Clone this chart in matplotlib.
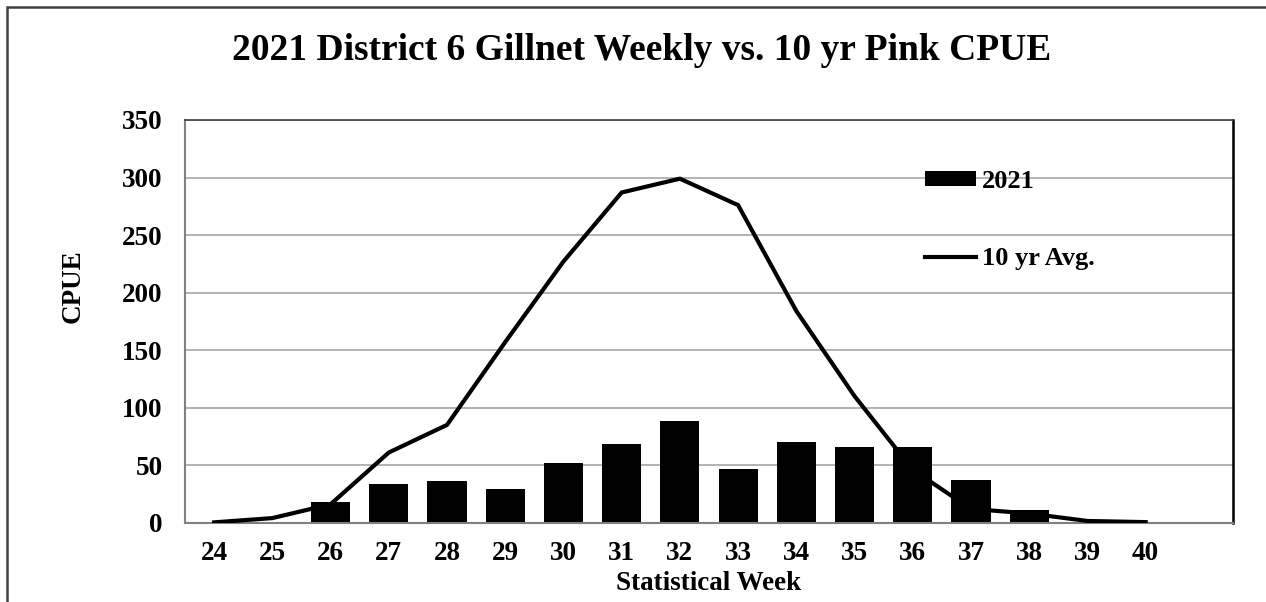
import matplotlib.pyplot as plt
from matplotlib.patches import Rectangle

# Data
weeks = [24, 25, 26, 27, 28, 29, 30, 31, 32, 33, 34, 35, 36, 37, 38, 39, 40]
cpue_2021 = [0, 0, 18, 34, 36, 29, 52, 68, 88, 47, 70, 66, 66, 37, 11, 0, 0]
avg_10yr = [0.3, 4, 16, 61, 85, 157, 227, 287, 299, 276, 184, 110, 46, 12, 8, 1.5, 0.5]
y_ticks = [0, 50, 100, 150, 200, 250, 300, 350]

plt.rcParams['font.family'] = ['Liberation Serif', 'DejaVu Serif']
plt.rcParams['font.weight'] = 'bold'

W, H = 1266, 602
fig = plt.figure(figsize=(W / 100, H / 100), dpi=100)
ax = fig.add_axes([185 / W, 1 - 522.7 / H, (1233 - 185) / W, (522.7 - 120) / H])

bars = ax.bar(weeks, cpue_2021, width=0.67, color='black', zorder=2, label='2021')
line, = ax.plot(weeks, avg_10yr, color='black', linewidth=3, zorder=3,
                solid_joinstyle='miter', label='10 yr Avg.')

ax.set_xlim(23.5, 41.5)
ax.set_ylim(0, 350)
ax.set_xticks(weeks)
ax.set_xticklabels([str(w) for w in weeks])
ax.set_yticks(y_ticks)
ax.tick_params(axis='both', length=0, labelsize=19.5)
ax.tick_params(axis='y', pad=16)
ax.tick_params(axis='x', pad=13)
ax.yaxis.grid(True, color='#a6a6a6', linewidth=1.2, zorder=0)
ax.set_axisbelow(True)

for side in ['left', 'bottom']:
    ax.spines[side].set_color('#808080')
    ax.spines[side].set_linewidth(1.5)
ax.spines['top'].set_color('#404040')
ax.spines['top'].set_linewidth(1.2)
ax.spines['right'].set_color('black')
ax.spines['right'].set_linewidth(1.8)

ax.set_xlabel('Statistical Week', fontsize=19.5, fontweight='bold')
ax.xaxis.set_label_coords(0.5, -(583 - 522.7) / (522.7 - 120), transform=ax.transAxes)
ax.xaxis.label.set_va('center')
ax.set_ylabel('CPUE', fontsize=19.5, fontweight='bold')
ax.yaxis.set_label_coords((73 - 185) / (1233 - 185), (522.7 - 286) / (522.7 - 120))
ax.yaxis.label.set_va('center')

ax.legend([bars, line], ['2021', '10 yr Avg.'], loc='upper left',
          bbox_to_anchor=((925 - 185) / 1048, (522.7 - 170) / 402.7),
          frameon=False, fontsize=19, borderpad=0, borderaxespad=0,
          handlelength=1.95, handleheight=0.5, handletextpad=0.2,
          labelspacing=2.05)

fig.text(642 / W, 1 - 50 / H, '2021 District 6 Gillnet Weekly vs. 10 yr Pink CPUE',
         ha='center', va='center', fontsize=27, fontweight='bold')

# outer chart border (right and bottom edges fall outside the picture)
fig.add_artist(Rectangle((7 / W, -0.1), 1.2, 1.1 - 7 / H, transform=fig.transFigure,
                         fill=False, edgecolor='#404040', linewidth=1.8))

fig.savefig('out.png', dpi=100)
